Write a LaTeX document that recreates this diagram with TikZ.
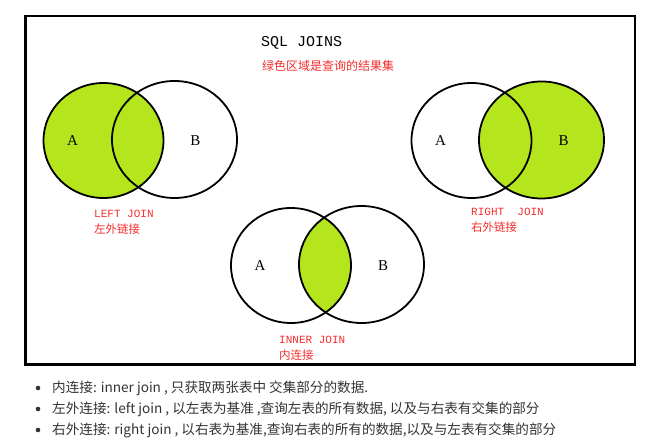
\documentclass[tikz,border=0pt]{standalone}
\usepackage{fontspec}
\setmainfont{Liberation Serif}
\newfontfamily\cjk{Noto Sans CJK SC}
\newfontfamily\labelmono{Liberation Mono}
\definecolor{joingreen}{RGB}{181,230,29}
\definecolor{joinred}{RGB}{245,45,45}
\definecolor{bodygray}{RGB}{51,51,51}
\tikzset{
  setA/.style={x radius=60, y radius=57.5},
  setB/.style={x radius=62.5, y radius=58.5},
  venn/.style={line width=1.8pt},
  setname/.style={font=\fontsize{15}{15}\selectfont},
  joinname/.style={anchor=west, inner sep=0pt, text=joinred, font=\labelmono\fontsize{11}{11}\selectfont},
  joincn/.style={anchor=west, inner sep=0pt, text=joinred, font=\cjk\fontsize{11.5}{11.5}\selectfont},
  bullettext/.style={anchor=west, inner sep=0pt, text=bodygray, font=\cjk\fontsize{13.6}{13.6}\selectfont}
}
\begin{document}
\begin{tikzpicture}[x=1pt, y=-1pt]
    \useasboundingbox (0,0) rectangle (651,443);
    \draw[line width=2.5pt] (25.5,16) rectangle (635,364.5);
    \node[anchor=west, inner sep=0pt, font=\labelmono\fontsize{15}{15}\selectfont] (title) at (261,43) {SQL JOINS};
    \node[joincn, font=\cjk\fontsize{12}{12}\selectfont] (subtitle) at (262,66) {绿色区域是查询的结果集};
    % left join
    \begin{scope}[shift={(103.5,140.5)}]
        \fill[joingreen] (0,0) ellipse [setA];
        \draw[venn] (0,0) ellipse [setA];
        \draw[venn] (71,-1) ellipse [setB];
        \node[setname] (leftA) at (-31,0) {A};
        \node[setname] (leftB) at (92,0) {B};
    \end{scope}
    \node[joinname] (leftjoin) at (94,214) {LEFT JOIN};
    \node[joincn] (leftjoincn) at (94,229) {左外链接};
    % right join
    \begin{scope}[shift={(471.5,140.5)}]
        \fill[joingreen] (70,-0.5) ellipse [setB];
        \draw[venn] (0,0) ellipse [setA];
        \draw[venn] (70,-0.5) ellipse [setB];
        \node[setname] (rightA) at (-31,0) {A};
        \node[setname] (rightB) at (92,0) {B};
    \end{scope}
    \node[joinname] (rightjoin) at (471,212) {RIGHT\ \ JOIN};
    \node[joincn] (rightjoincn) at (471,227) {右外链接};
    % inner join
    \begin{scope}[shift={(291,265.5)}]
        \begin{scope}
            \clip (0,0) ellipse [setA];
            \fill[joingreen] (70.5,-1) ellipse [setB];
        \end{scope}
        \draw[venn] (0,0) ellipse [setA];
        \draw[venn] (70.5,-1) ellipse [setB];
        \node[setname] (innerA) at (-31,0) {A};
        \node[setname] (innerB) at (92,0) {B};
    \end{scope}
    \node[joinname] (innerjoin) at (279,340) {INNER JOIN};
    \node[joincn] (innerjoincn) at (279,355) {内连接};
    % notes
    \foreach \y in {388,409,430} \fill[bodygray] (38,\y) circle (2.3);
    \node[bullettext] (noteinner) at (52,388) {内连接: inner join , 只获取两张表中 交集部分的数据.};
    \node[bullettext] (noteleft) at (52,409) {左外连接: left join , 以左表为基准 ,查询左表的所有数据, 以及与右表有交集的部分};
    \node[bullettext] (noteright) at (52,430) {右外连接: right join , 以右表为基准,查询右表的所有的数据,以及与左表有交集的部分};
\end{tikzpicture}
\end{document}
